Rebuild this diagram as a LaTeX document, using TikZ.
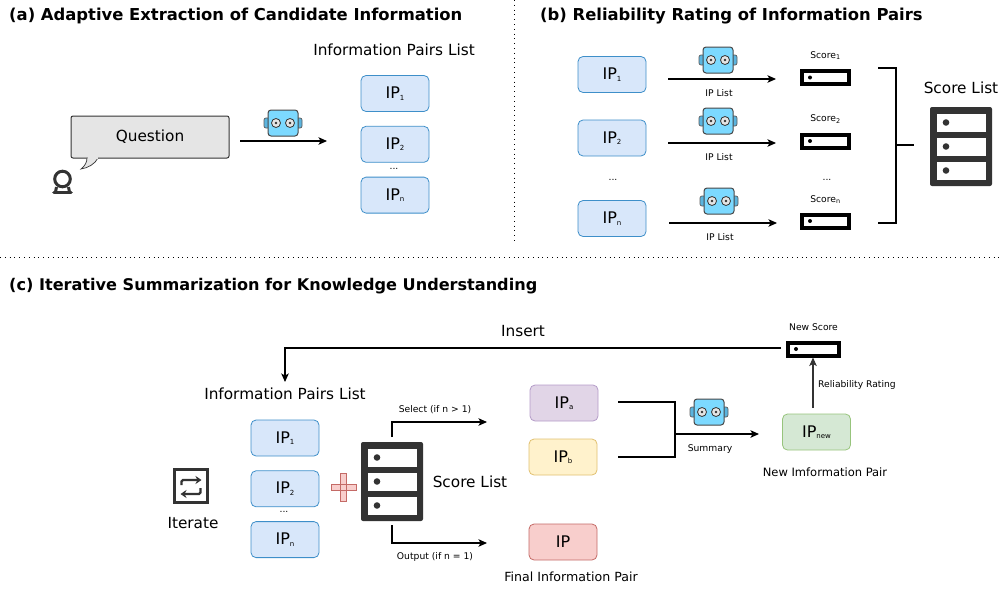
\documentclass[tikz,border=0pt]{standalone}
\usepackage{fontspec}
\setmainfont{DejaVu Sans}
\usepackage{xcolor}
\usepackage{tikz}
\usetikzlibrary{positioning, arrows.meta}

\definecolor{icondark}{HTML}{333333}
\definecolor{botblue}{HTML}{7CD9FF}
\definecolor{botear}{HTML}{5BB4DE}
\definecolor{blueface}{HTML}{D8E7FA}
\definecolor{blueedge}{HTML}{3E8FC9}
\definecolor{violetface}{HTML}{E1D5E7}
\definecolor{violetedge}{HTML}{B49CC8}
\definecolor{yellowface}{HTML}{FFF2CC}
\definecolor{yellowedge}{HTML}{E0C070}
\definecolor{redface}{HTML}{F8CECC}
\definecolor{rededge}{HTML}{C46A66}
\definecolor{greenface}{HTML}{D5E8D4}
\definecolor{greenedge}{HTML}{97C47C}

\newcommand{\iplab}[1]{IP{\fontsize{7}{7}\selectfont\raisebox{-1.5pt}{#1}}}

\tikzset{
	>={Stealth[length=8.5pt,width=7.5pt,inset=2pt]},
	every node/.style={inner sep=0pt},
	headline/.style={anchor=west, font=\fontsize{16.4}{19}\bfseries\selectfont},
	bigtxt/.style={font=\fontsize{15.3}{18}\selectfont},
	midtxt/.style={font=\fontsize{11.5}{14}\selectfont},
	smalltxt/.style={font=\fontsize{9.2}{11}\selectfont},
	ipbox/.style={draw=blueedge, fill=blueface, rounded corners=5pt, line width=0.8pt, minimum width=68pt, minimum height=36pt, font=\fontsize{16}{19}\selectfont},
	scorebar/.style={draw=black, fill=white, line width=4pt, minimum width=47pt, minimum height=13pt,
		path picture={\fill[black] ([xshift=8pt]path picture bounding box.west) circle (2pt);}},
	serverbox/.style={fill=icondark, rounded corners=2pt, minimum width=62pt, minimum height=79pt,
		path picture={
			\foreach \r in {-24,0,24} {
				\fill[white, sharp corners] ([shift={(-24.5,\r-9)}]path picture bounding box.center) rectangle ([shift={(24.5,\r+9)}]path picture bounding box.center);
				\fill[icondark, sharp corners] ([shift={(-15,\r)}]path picture bounding box.center) circle (3.3pt);
			}
		}},
	line/.style={line width=1.05pt},
	septxt/.style={dash pattern=on 1pt off 3.8pt, line width=1pt},
	robot/.pic={
		\filldraw[fill=botear, draw=icondark!80, line width=0.7pt, rounded corners=2pt] (-19,-5) rectangle (19,5);
		\filldraw[fill=botblue, draw=icondark!90, line width=1pt, rounded corners=3pt] (-15,-13) rectangle (15,13);
		\foreach \s in {-7,7} {
			\filldraw[fill=white!90!black, draw=icondark, line width=0.8pt] (\s,0) circle (4.5pt);
			\fill[icondark] (\s,0) circle (1.3pt);
		}
	},
	iterate/.pic={
		\draw[icondark, line width=3pt] (-16.5,-16.5) rectangle (16.5,16.5);
		\draw[icondark, line width=2.2pt, rounded corners=1.5pt, -{Stealth[length=6pt,width=8pt]}] (-9,-1) -- (-9,-6) -- (11,-6);
		\draw[icondark, line width=2.2pt, rounded corners=1.5pt, -{Stealth[length=6pt,width=8pt]}] (10,2) -- (10,8) -- (-10,8);
	},
	asker/.pic={
		\draw[icondark, line width=3pt] (0,-1) circle (7.8pt);
		\draw[icondark, line width=3pt] (-6,7) -- (-7,12) (6,7) -- (7,12);
		\draw[icondark, line width=3.6pt, line cap=round] (-8.5,12.5) -- (8.5,12.5);
	}
}

\begin{document}
\begin{tikzpicture}[x=1pt, y=-1pt]
	\useasboundingbox (0,0) rectangle (1003,589);

	% dotted separators
	\coordinate (sepv1) at (514.5,0);
	\coordinate (sepv2) at (514.5,243);
	\coordinate (seph1) at (0,257);
	\coordinate (seph2) at (1003,257);
	\draw[septxt] (sepv1) -- (sepv2);
	\draw[septxt] (seph1) -- (seph2);

	% part a
	\node[headline] (titleA) at (9,16) {(a) Adaptive Extraction of Candidate Information};
	\node[ipbox] (ipa1) at (395,93.5) {\iplab{1}};
	\node[ipbox, below = 14pt of ipa1] (ipa2) {\iplab{2}};
	\node[ipbox, below = 14pt of ipa2] (ipan) {\iplab{n}};
	\node[bigtxt] (listA) at (394,50) {Information Pairs List};
	\node[smalltxt] (dotsA) at (394,169) {...};
	\node[draw=icondark, fill=black!10, rounded corners=2pt, line width=1pt, minimum width=158pt, minimum height=42pt, bigtxt] (question) at (150,137) {\raisebox{-1.5pt}{Question}};
	\filldraw[fill=black!10, draw=icondark, line width=0.7pt] (98,158) .. controls (95,164) and (88,168) .. (81,169) .. controls (85,166) and (87,162) .. (87,158);
	\fill[black!10] (87.5,157) rectangle (97.5,159);
	\pic (userA) at (62.5,180) {asker};
	\pic (botA) at (283,123) {robot};
	\coordinate (startA) at (240,141);
	\coordinate (endA) at (327,141);
	\draw[->, line] (startA) -- (endA);

	% part b
	\node[headline] (titleB) at (540,16) {(b) Reliability Rating of Information Pairs};
	\foreach \i/\yb/\ya/\yr/\ys/\xo in {1/74.5/79/60/77.5/0, 2/138/143/121/141/0, n/218.5/223/201/221/1} {
		\node[ipbox] (ipb\i) at (612,\yb) {\iplab{\i}};
		\pic (botB\i) at (718+\xo,\yr) {robot};
		\coordinate (startB\i) at (668+\xo,\ya);
		\coordinate (endB\i) at (776+\xo,\ya);
		\draw[->, line] (startB\i) -- (endB\i);
		\node[smalltxt] (ipl\i) at (719+\xo,\ya+14) {IP List};
		\node[scorebar] (bar\i) at (825.5,\ys) {};
		\node[smalltxt, above = 9pt of bar\i] (scr\i) {Score\textsubscript{\i}};
	}
	\node[smalltxt] (dotsB1) at (613,180) {...};
	\node[smalltxt] (dotsB2) at (827,180) {...};
	\node[serverbox] (serverB) at (961,146.5) {};
	\node[bigtxt, above = 13pt of serverB] (listB) {Score List};
	\coordinate (brk1) at (878,68);
	\coordinate (brk2) at (896,68);
	\coordinate (brk3) at (896,223);
	\coordinate (brk4) at (878,223);
	\coordinate (brk5) at (896,145);
	\coordinate (brk6) at (914,145);
	\draw[line] (brk1) -- (brk2) -- (brk3) -- (brk4);
	\draw[line] (brk5) -- (brk6);

	% part c
	\node[headline, font=\fontsize{16.1}{19}\bfseries\selectfont] (titleC) at (9,286) {(c) Iterative Summarization for Knowledge Understanding};
	\node[scorebar, minimum width=51pt] (barC) at (813.5,349) {};
	\node[smalltxt, above = 10pt of barC] (newscore) {New Score};
	\node[bigtxt] (insert) at (523,331) {Insert};
	\coordinate (insA) at (781,348);
	\coordinate (insB) at (285,348);
	\coordinate (insC) at (285,382);
	\draw[->, line] (insA) -- (insB) -- (insC);
	\node[bigtxt] (listC) at (285,394) {Information Pairs List};
	\node[ipbox] (ipc1) at (285,438) {\iplab{1}};
	\node[ipbox, below = 14pt of ipc1] (ipc2) {\iplab{2}};
	\node[ipbox, below = 14pt of ipc2] (ipcn) {\iplab{n}};
	\node[smalltxt] (dotsC) at (284,512) {...};
	\pic (iter) at (190.5,486) {iterate};
	\node[bigtxt] (iterlab) at (193,523) {Iterate};
	\filldraw[fill=redface, draw=rededge, line width=0.9pt] (340.5,473) rectangle (346.5,501) (331,484) rectangle (356,490);
	\fill[redface] (341,484.5) rectangle (346,489.5);
	\node[serverbox] (serverC) at (392,481.5) {};
	\node[bigtxt] (scoreC) at (470,482) {Score List};
	\node[ipbox, fill=violetface, draw=violetedge] (ipca) at (564,403) {\iplab{a}};
	\node[ipbox, fill=yellowface, draw=yellowedge] (ipcb) at (563,457) {\iplab{b}};
	\node[ipbox, fill=redface, draw=rededge] (ipfinal) at (563,542) {IP};
	\node[midtxt, font=\fontsize{12.6}{15}\selectfont] (finallab) at (571,577) {Final Information Pair};
	\coordinate (selA) at (392,437);
	\coordinate (selB) at (392,422);
	\coordinate (selC) at (487,422);
	\draw[->, line] (selA) -- (selB) -- (selC);
	\node[smalltxt] (sellab) at (435,410) {Select (if n > 1)};
	\coordinate (outA) at (392,525);
	\coordinate (outB) at (392,543);
	\coordinate (outC) at (487,543);
	\draw[->, line] (outA) -- (outB) -- (outC);
	\node[smalltxt] (outlab) at (435,557) {Output (if n = 1)};
	\coordinate (sumA) at (618,402);
	\coordinate (sumB) at (675,402);
	\coordinate (sumC) at (675,457);
	\coordinate (sumD) at (618,457);
	\coordinate (sumE) at (675,434);
	\coordinate (sumF) at (759,434);
	\draw[line] (sumA) -- (sumB) -- (sumC) -- (sumD);
	\draw[->, line width=1.4pt] (sumE) -- (sumF);
	\pic (botC) at (709,412) {robot};
	\node[smalltxt] (sumlab) at (710,449) {Summary};
	\node[ipbox, fill=greenface, draw=greenedge] (ipnew) at (816.5,432) {\iplab{new}};
	\node[midtxt] (newlab) at (825,472) {New Imformation Pair};
	\coordinate (ratA) at (813,408);
	\draw[->, line, icondark] (ratA) -- (barC.south -| ratA);
	\node[smalltxt] (ratlab) at (857,385) {Reliability Rating};
\end{tikzpicture}
\end{document}
